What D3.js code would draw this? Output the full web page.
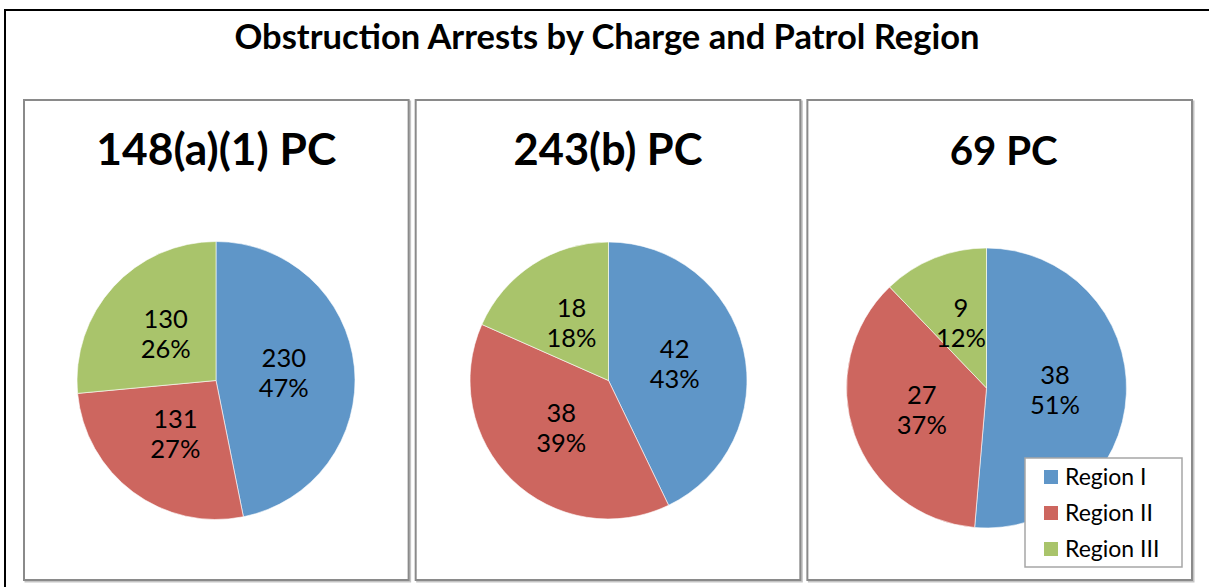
<!DOCTYPE html>
<html>
<head>
<meta charset="utf-8">
<script src="https://cdn.jsdelivr.net/npm/d3@7"></script>
<style>
  html, body { margin: 0; padding: 0; background: #fff; }
  svg { display: block; font-family: Lato, "Open Sans", sans-serif; }
</style>
</head>
<body>
<svg id="chart" width="1209" height="587"></svg>
<script>
// data
const chartTitle = 'Obstruction Arrests by Charge and Patrol Region';
const regions = ['Region I', 'Region II', 'Region III'];
const charges = ['148(a)(1) PC', '243(b) PC', '69 PC'];
const arrests148 = [230, 131, 130];
const arrests243 = [42, 38, 18];
const arrests69 = [38, 27, 9];
// percent labels as printed on the slices
const pct148 = ['47%', '27%', '26%'];
const pct243 = ['43%', '39%', '18%'];
const pct69 = ['51%', '37%', '12%'];

const series = [arrests148, arrests243, arrests69];
const pcts = [pct148, pct243, pct69];

const color = d3.scaleOrdinal()
  .domain(regions)
  .range(['#5f96c8', '#cd665f', '#a9c46b']);

const svg = d3.select('#chart');

// shrink/grow a text node's font so it spans roughly `target` px
function fitWidth(sel, target) {
  const node = sel.node();
  const fs = parseFloat(sel.attr('font-size'));
  const len = node.getComputedTextLength();
  if (len > 0) sel.attr('font-size', (fs * target / len).toFixed(2));
}

// outer frame (right and bottom edges are cut off in the picture)
svg.append('rect')
  .attr('x', 5).attr('y', 10)
  .attr('width', 1240).attr('height', 620)
  .attr('fill', 'none')
  .attr('stroke', '#000')
  .attr('stroke-width', 2);

const title = svg.append('text')
  .attr('x', 607).attr('y', 49)
  .attr('text-anchor', 'middle')
  .attr('font-weight', 700)
  .attr('font-size', 30)
  .attr('fill', '#000')
  .text(chartTitle);
fitWidth(title, 745);

// panel layout
const panelX = d3.scaleBand().domain(charges).range([24, 1192]).paddingInner(0.018);
const panelTop = 100, panelBottom = 580;
const pieCY = [380.5, 380.5, 388];
const pieR = [139, 138.5, 140];
const pieCX = [216, 608.5, 986.5];
const headW = [240, 189, 108];

const pie = d3.pie().sort(null).value(d => d);

charges.forEach((name, i) => {
  const x0 = panelX(name), w = panelX.bandwidth();
  const g = svg.append('g');

  // soft shadow, then the gray border
  g.append('rect')
    .attr('x', x0 + 1.5).attr('y', panelTop + 1.5)
    .attr('width', w).attr('height', panelBottom - panelTop)
    .attr('fill', 'none').attr('stroke', '#c4c4c4').attr('stroke-width', 2);
  g.append('rect')
    .attr('x', x0).attr('y', panelTop)
    .attr('width', w).attr('height', panelBottom - panelTop)
    .attr('fill', '#fff').attr('stroke', '#8a8a8a').attr('stroke-width', 2);

  const head = g.append('text')
    .attr('x', x0 + w / 2 + (i === 2 ? 4 : 0)).attr('y', 165)
    .attr('text-anchor', 'middle')
    .attr('font-weight', 700)
    .attr('font-size', 38)
    .attr('fill', '#000')
    .text(name);
  fitWidth(head, headW[i]);

  const r = pieR[i];
  const arc = d3.arc().innerRadius(0).outerRadius(r);
  const labelArc = d3.arc().innerRadius(r * 0.49).outerRadius(r * 0.49);
  const arcs = pie(series[i]);

  const pg = g.append('g').attr('transform', `translate(${pieCX[i]},${pieCY[i]})`);
  pg.selectAll('path')
    .data(arcs)
    .join('path')
    .attr('d', arc)
    .attr('fill', (d, j) => color(regions[j]))
    .attr('stroke', '#fff')
    .attr('stroke-width', 0.6);

  const lbl = pg.selectAll('text.lbl')
    .data(arcs)
    .join('text')
    .attr('class', 'lbl')
    .attr('text-anchor', 'middle')
    .attr('font-size', 25.5)
    .attr('fill', '#000')
    .attr('transform', d => `translate(${labelArc.centroid(d)})`);
  lbl.append('tspan').attr('x', 0).attr('y', -7).text(d => d.data);
  lbl.append('tspan').attr('x', 0).attr('y', 23).text((d, j) => pcts[i][j]);
});

// legend in the last panel
const legend = svg.append('g');
legend.append('rect')
  .attr('x', 1025).attr('y', 458)
  .attr('width', 157).attr('height', 109)
  .attr('fill', '#fff')
  .attr('stroke', '#a6a6a6')
  .attr('stroke-width', 1.5);

const rowY = d3.scalePoint().domain(regions).range([477, 549]);
const rows = legend.selectAll('g.row')
  .data(regions)
  .join('g')
  .attr('class', 'row')
  .attr('transform', d => `translate(1044,${rowY(d)})`);
rows.append('rect')
  .attr('x', 0).attr('y', -7)
  .attr('width', 14).attr('height', 14)
  .attr('fill', d => color(d));
rows.append('text')
  .attr('x', 21).attr('y', 7.5)
  .attr('font-size', 23)
  .attr('fill', '#000')
  .text(d => d);
</script>
</body>
</html>
